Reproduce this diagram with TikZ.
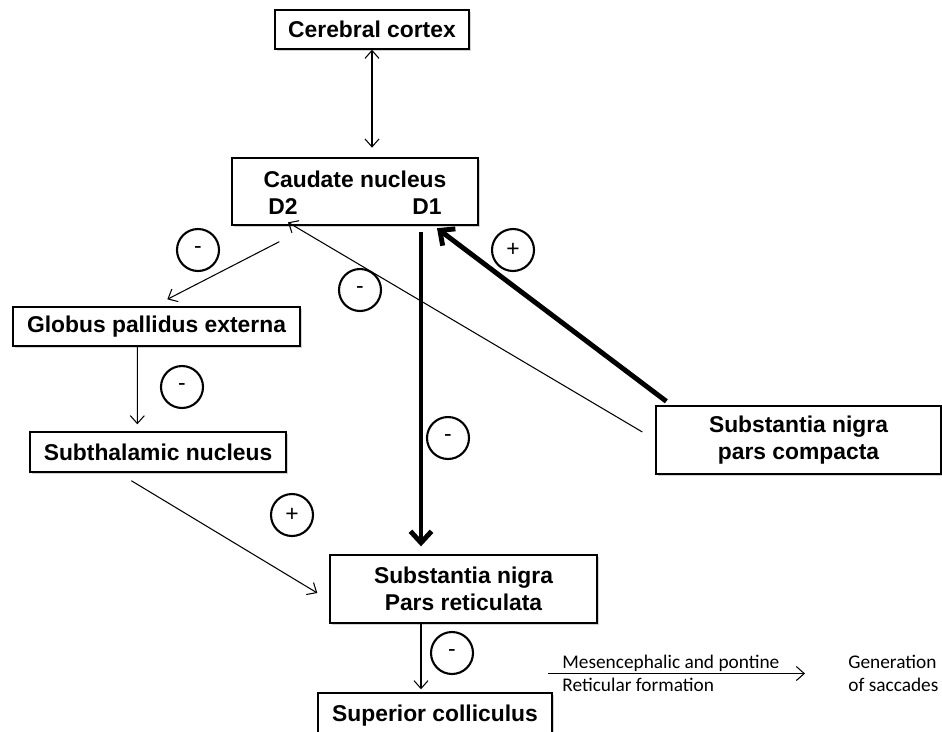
\documentclass[tikz,border=0pt]{standalone}
\usepackage{fontspec}
\setmainfont{Liberation Sans}
\newfontfamily\calibri{Carlito}
\usetikzlibrary{arrows.meta,shadows}

\begin{document}
\begin{tikzpicture}[x=0.02cm,y=-0.02cm,
  >={Straight Barb[length=4.5pt,width=8pt]},
  thin arrow/.style={line width=0.6pt},
  thick arrow/.style={line width=2.8pt,>={Straight Barb[length=6.5pt,width=12pt]}},
  box node/.style={draw,line width=0.8pt,fill=white,align=center,inner sep=0pt,
    font=\fontsize{13}{15.5}\selectfont\bfseries,
    drop shadow={shadow xshift=1.2pt,shadow yshift=-1.2pt,opacity=0.35}},
  label node/.style={inner sep=0pt,font=\fontsize{13}{15.5}\selectfont\bfseries},
  sign node/.style={circle,draw,line width=1.2pt,minimum size=0.84cm,inner sep=0pt,
    font=\fontsize{13}{13}\selectfont},
  note node/.style={inner sep=0pt,align=left,anchor=west,font=\calibri\fontsize{11}{13}\selectfont}]
  \useasboundingbox (0,0) rectangle (942,731);
  \clip (0,0) rectangle (942,731);
  \fill[white] (0,0) rectangle (942,731);

  \node[box node,minimum width=3.88cm,minimum height=0.78cm] (cortex) at (372,29.5) {Cerebral cortex};
  \node[box node,minimum width=4.92cm,minimum height=1.34cm] (caudate) at (355,191.5) {};
  \node[label node] (caudate_t) at (355,179) {Caudate nucleus};
  \node[label node] (d2) at (283,207) {D2};
  \node[label node] (d1) at (427,207) {D1};
  \node[box node,minimum width=5.74cm,minimum height=0.78cm] (gpe) at (156.5,326.5) {Globus pallidus externa};
  \node[box node,minimum width=5.12cm,minimum height=0.8cm] (stn) at (158,452) {Subthalamic nucleus};
  \node[box node,minimum width=5.7cm,minimum height=1.36cm] (snc) at (798.5,440) {Substantia nigra\\pars compacta};
  \node[box node,minimum width=5.34cm,minimum height=1.36cm] (snr) at (463.5,589) {Substantia nigra\\Pars reticulata};
  \node[box node,minimum width=4.68cm,minimum height=0.9cm] (sc) at (435,715.5) {Superior colliculus};
  \node[note node] (mes) at (562,673.5) {Mesencephalic and pontine\\Reticular formation};
  \node[note node] (gen) at (848,673.5) {Generation\\of saccades};

  \node[sign node] (sign_gpe) at (198,250) {-};
  \node[sign node] (sign_d2) at (360,290) {-};
  \node[sign node] (sign_d1) at (513,250) {+};
  \node[sign node] (sign_stn) at (182,387) {-};
  \node[sign node] (sign_snr) at (448,438) {-};
  \node[sign node] (sign_exc) at (292,515) {+};
  \node[sign node] (sign_sc) at (452,653) {-};

  \path[thin arrow]
    (cortex.south) edge[<->,shorten >=5.5pt] (cortex.south |- caudate.north)
    ([shift={(48,16)}]caudate.south west) edge[->] ([shift={(155,-7)}]gpe.north west)
    ([shift={(125,0)}]gpe.south west) edge[->] ([shift={(108,-7)}]stn.north west)
    ([shift={(102,8)}]stn.south west) edge[->] ([shift={(-12,4)}]snr.west)
    ([shift={(-13,-8)}]snc.west) edge[->] ([shift={(5,7)}]d2.south)
    ([shift={(-42.5,0)}]snr.south) edge[->] ([shift={(-14,-3)}]sc.north)
    ([shift={(-14,0)}]mes.west) edge[->] ([shift={(-43,0)}]gen.west);
  \path[thick arrow]
    ([shift={(-6,17)}]d1.south) edge[->] ([shift={(-42.5,-8)}]snr.north)
    ([shift={(11,-4)}]snc.north west) edge[->] ([shift={(10,13)}]d1.south);
\end{tikzpicture}
\end{document}
